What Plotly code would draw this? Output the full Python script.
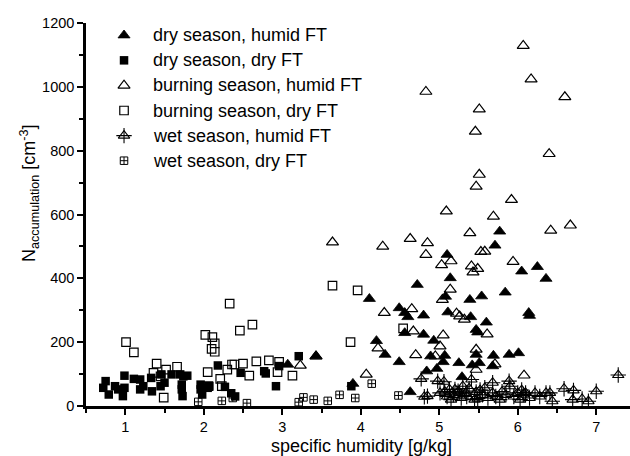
import plotly.graph_objects as go

# specific humidity [g/kg] and accumulation-mode number concentration [cm^-3]
dry_humid_q = [3.07, 3.43, 3.90, 4.11, 4.20, 4.31, 4.49, 4.49, 4.56, 4.56, 4.60, 4.63, 4.72, 4.80,
               4.80, 4.84, 4.89, 4.93, 4.97, 5.05, 5.07, 5.08, 5.10, 5.11, 5.14, 5.25, 5.29, 5.39,
               5.40, 5.42, 5.47, 5.47, 5.49, 5.51, 5.54, 5.60, 5.68, 5.69, 5.71, 5.77, 5.84, 5.89,
               6.01, 6.05, 6.14, 6.15, 6.25, 6.36]
dry_humid_n = [130, 156, 70, 336, 204, 161, 307, 138, 292, 229, 279, 44, 380, 284,
               224, 109, 156, 205, 117, 138, 158, 343, 474, 294, 401, 135, 91, 333,
               279, 128, 239, 161, 231, 135, 344, 262, 125, 158, 503, 547, 356, 161,
               166, 422, 292, 283, 436, 399]

dry_dry_q = [0.72, 0.75, 0.79, 0.87, 0.91, 0.97, 0.99, 0.99, 1.11, 1.19, 1.19, 1.23, 1.33, 1.34,
             1.45, 1.46, 1.50, 1.59, 1.70, 1.72, 1.72, 1.73, 1.74, 1.79, 1.96, 1.96, 1.98, 2.05,
             2.07, 2.18, 2.27, 2.35, 2.40, 2.47, 2.77, 2.79, 2.92, 2.96, 3.21, 3.88]
dry_dry_n = [57, 78, 36, 62, 52, 31, 95, 57, 85, 83, 52, 62, 88, 46,
             62, 99, 73, 99, 99, 67, 52, 31, 93, 95, 67, 52, 36, 57,
             62, 127, 60, 40, 30, 104, 109, 102, 62, 125, 156, 62]

burn_humid_q = [3.23, 3.43, 3.64, 4.07, 4.22, 4.28, 4.30, 4.63, 4.65, 4.67, 4.70, 4.83, 4.83, 4.85,
                4.95, 5.01, 5.03, 5.04, 5.05, 5.09, 5.14, 5.15, 5.22, 5.26, 5.32, 5.39, 5.41, 5.43,
                5.46, 5.47, 5.47, 5.47, 5.49, 5.51, 5.51, 5.53, 5.58, 5.61, 5.69, 5.71, 5.92, 5.94,
                6.07, 6.08, 6.17, 6.40, 6.42, 6.60, 6.67]
burn_humid_n = [127, 156, 513, 99, 181, 500, 292, 524, 304, 234, 160, 985, 474, 511,
                156, 187, 442, 333, 222, 610, 365, 454, 290, 281, 271, 542, 438, 419,
                860, 688, 177, 114, 430, 930, 725, 483, 484, 225, 594, 131, 646, 452,
                1129, 96, 1024, 790, 550, 968, 566]

burn_dry_q = [1.01, 1.11, 1.36, 1.40, 1.45, 1.49, 1.52, 1.66, 2.02, 2.05, 2.06, 2.10, 2.11, 2.14,
              2.14, 2.21, 2.23, 2.30, 2.33, 2.36, 2.39, 2.46, 2.50, 2.58, 2.62, 2.67, 2.83, 2.94,
              2.96, 3.13, 3.64, 3.87, 3.96, 4.54]
burn_dry_n = [200, 168, 104, 133, 93, 26, 114, 123, 223, 106, 62, 179, 216, 196,
              170, 85, 62, 114, 321, 130, 130, 236, 133, 95, 255, 140, 143, 106,
              138, 95, 377, 200, 362, 243]

wet_humid_q = [4.77, 4.81, 4.85, 4.98, 5.01, 5.06, 5.07, 5.10, 5.13, 5.15, 5.18, 5.20, 5.24, 5.26,
               5.28, 5.30, 5.34, 5.35, 5.38, 5.41, 5.45, 5.47, 5.49, 5.52, 5.55, 5.58, 5.62, 5.68,
               5.68, 5.72, 5.77, 5.80, 5.85, 5.89, 5.90, 5.95, 6.00, 6.03, 6.05, 6.07, 6.10, 6.15,
               6.22, 6.28, 6.36, 6.41, 6.44, 6.59, 6.70, 6.71, 6.82, 6.90, 7.00, 7.28]
wet_humid_n = [85, 29, 31, 78, 41, 76, 45, 30, 52, 20, 35, 52, 46, 41,
               25, 62, 41, 30, 55, 83, 20, 44, 23, 50, 35, 57, 25, 73,
               41, 30, 20, 45, 35, 78, 62, 30, 41, 20, 50, 36, 41, 25,
               41, 30, 41, 41, 15, 54, 20, 49, 22, 15, 46, 97]

wet_dry_q = [1.93, 2.23, 2.37, 2.55, 3.21, 3.27, 3.40, 3.58, 3.73, 3.93, 4.14, 4.48]
wet_dry_n = [13, 16, 25, 9, 12, 27, 20, 16, 35, 25, 70, 33]

legend_labels = ["dry season, humid FT", "dry season, dry FT", "burning season, humid FT",
                 "burning season, dry FT", "wet season, humid FT", "wet season, dry FT"]

INK = "#000000"
FONT = "Liberation Sans, Arial, sans-serif"

# marker styles, one per series (wet/humid is a triangle with a cross drawn over it)
styles = [
    [dict(symbol="triangle-up", size=10.5, color=INK, line=dict(width=0.8, color=INK))],
    [dict(symbol="square", size=8.5, color=INK, line=dict(width=0))],
    [dict(symbol="triangle-up-open", size=10.5, color=INK, line=dict(width=1.2, color=INK))],
    [dict(symbol="square-open", size=8.5, color=INK, line=dict(width=1.2, color=INK))],
    [dict(symbol="triangle-up-open", size=10, color=INK, line=dict(width=1.1, color=INK)),
     dict(symbol="cross-thin-open", size=11, color=INK, line=dict(width=1.1, color=INK))],
    [dict(symbol="square-cross-open", size=7.5, color=INK, line=dict(width=1.0, color=INK))],
]
series = [(dry_humid_q, dry_humid_n), (dry_dry_q, dry_dry_n), (burn_humid_q, burn_humid_n),
          (burn_dry_q, burn_dry_n), (wet_humid_q, wet_humid_n), (wet_dry_q, wet_dry_n)]

fig = go.Figure()
draw_order = [5, 4, 3, 2, 1, 0]
for i in draw_order:
    q, n = series[i]
    for st in styles[i]:
        fig.add_trace(go.Scatter(x=q, y=n, mode="markers", marker=st, name=legend_labels[i],
                                 showlegend=False, cliponaxis=False, hoverinfo="x+y"))

# hand-built legend on an overlay axis spanning the plot area in fractions
leg_x = 0.0699
leg_y0 = 0.968
leg_dy = 0.0655
for i, label in enumerate(legend_labels):
    yy = leg_y0 - i * leg_dy
    for st in styles[i]:
        fig.add_trace(go.Scatter(x=[leg_x], y=[yy], mode="markers", marker=st,
                                 xaxis="x2", yaxis="y2", showlegend=False, hoverinfo="skip",
                                 cliponaxis=False))
    fig.add_annotation(x=0.120, y=yy, xref="paper", yref="paper", text=label,
                       showarrow=False, xanchor="left", yanchor="middle",
                       font=dict(family=FONT, size=18, color=INK))

axis_common = dict(showline=True, linewidth=2.5, linecolor=INK, ticks="outside",
                   tickwidth=2, tickcolor=INK, ticklen=6, showgrid=False, zeroline=False,
                   tickfont=dict(family=FONT, size=14.5, color=INK))

fig.update_layout(
    width=630, height=456,
    margin=dict(l=86, r=0, t=23, b=50),
    plot_bgcolor="white", paper_bgcolor="white",
    font=dict(family=FONT, color=INK),
    xaxis=dict(range=[0.5, 7.43], dtick=1, tick0=0,
               minor=dict(dtick=0.5, ticks="outside", ticklen=4, tickwidth=1.5, tickcolor=INK),
               **axis_common),
    yaxis=dict(range=[0, 1200], dtick=200, tick0=0,
               minor=dict(dtick=100, ticks="outside", ticklen=4, tickwidth=1.5, tickcolor=INK),
               **axis_common),
    xaxis2=dict(range=[0, 1], overlaying="x", visible=False, fixedrange=True),
    yaxis2=dict(range=[0, 1], overlaying="y", visible=False, fixedrange=True),
    showlegend=False,
)

fig.add_annotation(x=0.507, y=-0.104, xref="paper", yref="paper",
                   text="specific humidity [g/kg]", showarrow=False,
                   xanchor="center", yanchor="middle",
                   font=dict(family=FONT, size=18, color=INK))
fig.add_annotation(x=-0.105, y=0.556, xref="paper", yref="paper",
                   text="N<sub>accumulation</sub> [cm<sup>-3</sup>]", showarrow=False,
                   textangle=-90, xanchor="center", yanchor="middle",
                   font=dict(family=FONT, size=18, color=INK))

fig.write_html("out.html")
